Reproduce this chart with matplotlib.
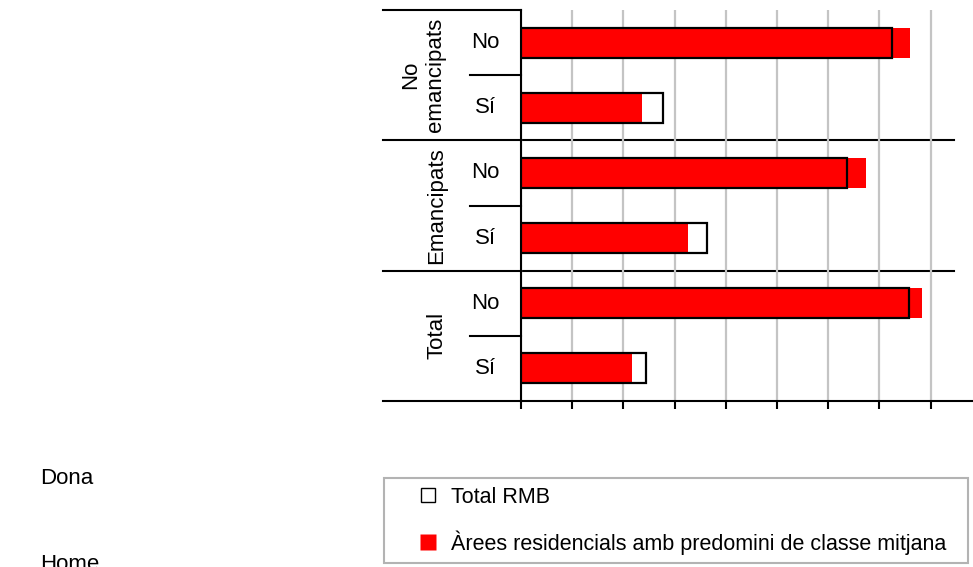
import matplotlib
matplotlib.use("Agg")
import matplotlib.pyplot as plt
from matplotlib.lines import Line2D

plt.rcParams['font.family'] = ['Liberation Sans', 'DejaVu Sans']

groups = ['No\nemancipats', 'Emancipats', 'Total']
answers = ['No', 'Sí', 'No', 'Sí', 'No', 'Sí']
total_rmb = [72.5, 27.7, 63.6, 36.3, 75.7, 24.5]
classe_mitjana = [76.0, 23.7, 67.4, 32.6, 78.4, 21.7]
legend_labels = ['Total RMB', 'Àrees residencials amb predomini de classe mitjana']
side_labels = ['Dona', 'Home']

W, H = 973, 567
fig = plt.figure(figsize=(W / 100, H / 100), dpi=100)
# axes: x 0 at px 521, 10 units = 51.2 px; y from px 10 to 401
px_per_unit = 5.12
xmax = 90
ax = fig.add_axes([521 / W, 1 - 401 / H, xmax * px_per_unit / W, 391 / H])
ax.set_xlim(0, xmax)
ax.set_ylim(5.5, -0.5)

pos = list(range(len(answers)))
bh = 0.46
ax.barh(pos, total_rmb, height=bh, color='white', edgecolor='none', zorder=2)
ax.barh(pos, classe_mitjana, height=bh, color='#ff0000', edgecolor='none', zorder=3)
ax.barh(pos, total_rmb, height=bh, fill=False, edgecolor='black', linewidth=1.6, zorder=4)

ax.set_xticks(range(0, 81, 10))
ax.set_xticklabels([])
ax.set_yticks([])
ax.grid(axis='x', color='#c4c4c4', linewidth=1.6, zorder=0)
ax.tick_params(axis='x', direction='out', length=6, width=1.5, color='black')
for s in ['top', 'right']:
    ax.spines[s].set_visible(False)
for s in ['left', 'bottom']:
    ax.spines[s].set_linewidth(1.5)
    ax.spines[s].set_color('black')

# separators in the label area
xl = (383 - 521) / px_per_unit
xs = (470 - 521) / px_per_unit
xr = (954 - 521) / px_per_unit
ax.plot([xl, 0], [-0.5, -0.5], color='black', lw=1.5, clip_on=False)
ax.plot([xl, 0], [5.5, 5.5], color='black', lw=1.5, clip_on=False)
for y in [1.5, 3.5]:
    ax.plot([xl, xr], [y, y], color='black', lw=1.5, clip_on=False, zorder=1)
for y in [0.5, 2.5, 4.5]:
    ax.plot([xs, 0], [y, y], color='black', lw=1.5, clip_on=False)

fs = 16
for p, a in zip(pos, answers):
    ax.text((485 - 521) / px_per_unit, p, a, ha='center', va='center', fontsize=fs)
for i, g in enumerate(groups):
    gx = (423 - 521) / px_per_unit if '\n' in g else (437 - 521) / px_per_unit
    ax.text(gx, 2 * i + 0.5, g, rotation=90, ha='center', va='center',
            multialignment='center', fontsize=fs, linespacing=1.25)

fig.text(40 / W, 1 - 478 / H, side_labels[0], ha='left', va='center', fontsize=fs)
fig.text(40 / W, 1 - 564 / H, side_labels[1], ha='left', va='center', fontsize=fs)

lfs = 15.5
handles = [
    Line2D([], [], linestyle='none', marker='s', markersize=9.5,
           markerfacecolor='white', markeredgecolor='black', markeredgewidth=1.0),
    Line2D([], [], linestyle='none', marker='s', markersize=12,
           markerfacecolor='#ff0000', markeredgecolor='none'),
]
leg = fig.legend(handles, legend_labels, loc='upper left',
                 bbox_to_anchor=(384 / W, 0, (968 - 384) / W, 1 - 478 / H),
                 mode='expand', borderaxespad=0, fontsize=lfs, fancybox=False,
                 handlelength=3.25, handletextpad=-0.53, labelspacing=1.05,
                 borderpad=0.4, frameon=True)
leg.get_frame().set_edgecolor('#a0a0a0')
leg.get_frame().set_linewidth(1.5)

fig.savefig('out.png', dpi=100)
